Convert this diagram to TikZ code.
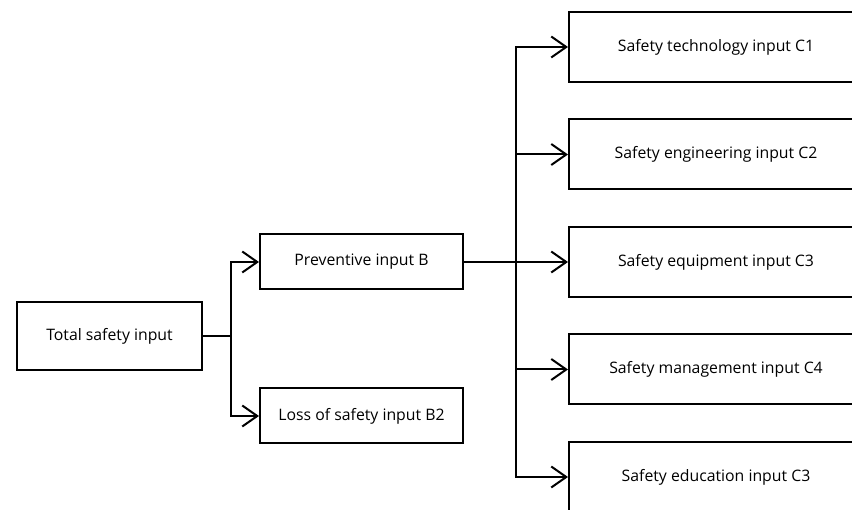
\documentclass[tikz,border=0pt]{standalone}
\usepackage{fontspec}
\setmainfont{Open Sans}
\usetikzlibrary{arrows.meta}

\tikzset{
	box/.style={draw, line width=2pt, inner sep=0pt, align=center, font=\fontsize{15.8}{18}\selectfont},
	arr/.style={line width=2pt, -{Straight Barb[length=15pt,width=21pt,line width=2pt]}},
	lnk/.style={line width=2pt}
}

\begin{document}
\begin{tikzpicture}[x=1pt,y=-1pt]
\useasboundingbox (0,0) rectangle (852,510);
\clip (0,0) rectangle (852,510);

\pgfmathsetmacro{\colBx}{259}
\pgfmathsetmacro{\colCx}{568}
\pgfmathsetmacro{\rowGap}{107.5}

\node[box, minimum width=185pt, minimum height=68pt, anchor=west] (tot) at (16,336) {Total safety input};
\node[box, minimum width=203pt, minimum height=55pt, anchor=west] (pb) at (\colBx,262) {Preventive input B};
\node[box, minimum width=203pt, minimum height=55pt, anchor=west] (lb) at (\colBx,416) {Loss of safety input B2};

\foreach \i/\t in {1/Safety technology input C1, 2/Safety engineering input C2, 3/Safety equipment input C3, 4/Safety management input C4, 5/Safety education input C3}
	\node[box, minimum width=294pt, minimum height=70pt, anchor=west] (c\i) at (\colCx,{47+(\i-1)*\rowGap}) {\t};

\coordinate (j1) at (231,336);
\coordinate (j2) at (516,262);

\draw[lnk] (tot.east) -- (j1);
\draw[arr] (j1) |- (pb.west);
\draw[arr] (j1) |- (lb.west);

\draw[lnk] (pb.east) -- (j2);
\foreach \i in {1,...,5}
	\draw[arr] (j2) |- (c\i.west);
\end{tikzpicture}
\end{document}
